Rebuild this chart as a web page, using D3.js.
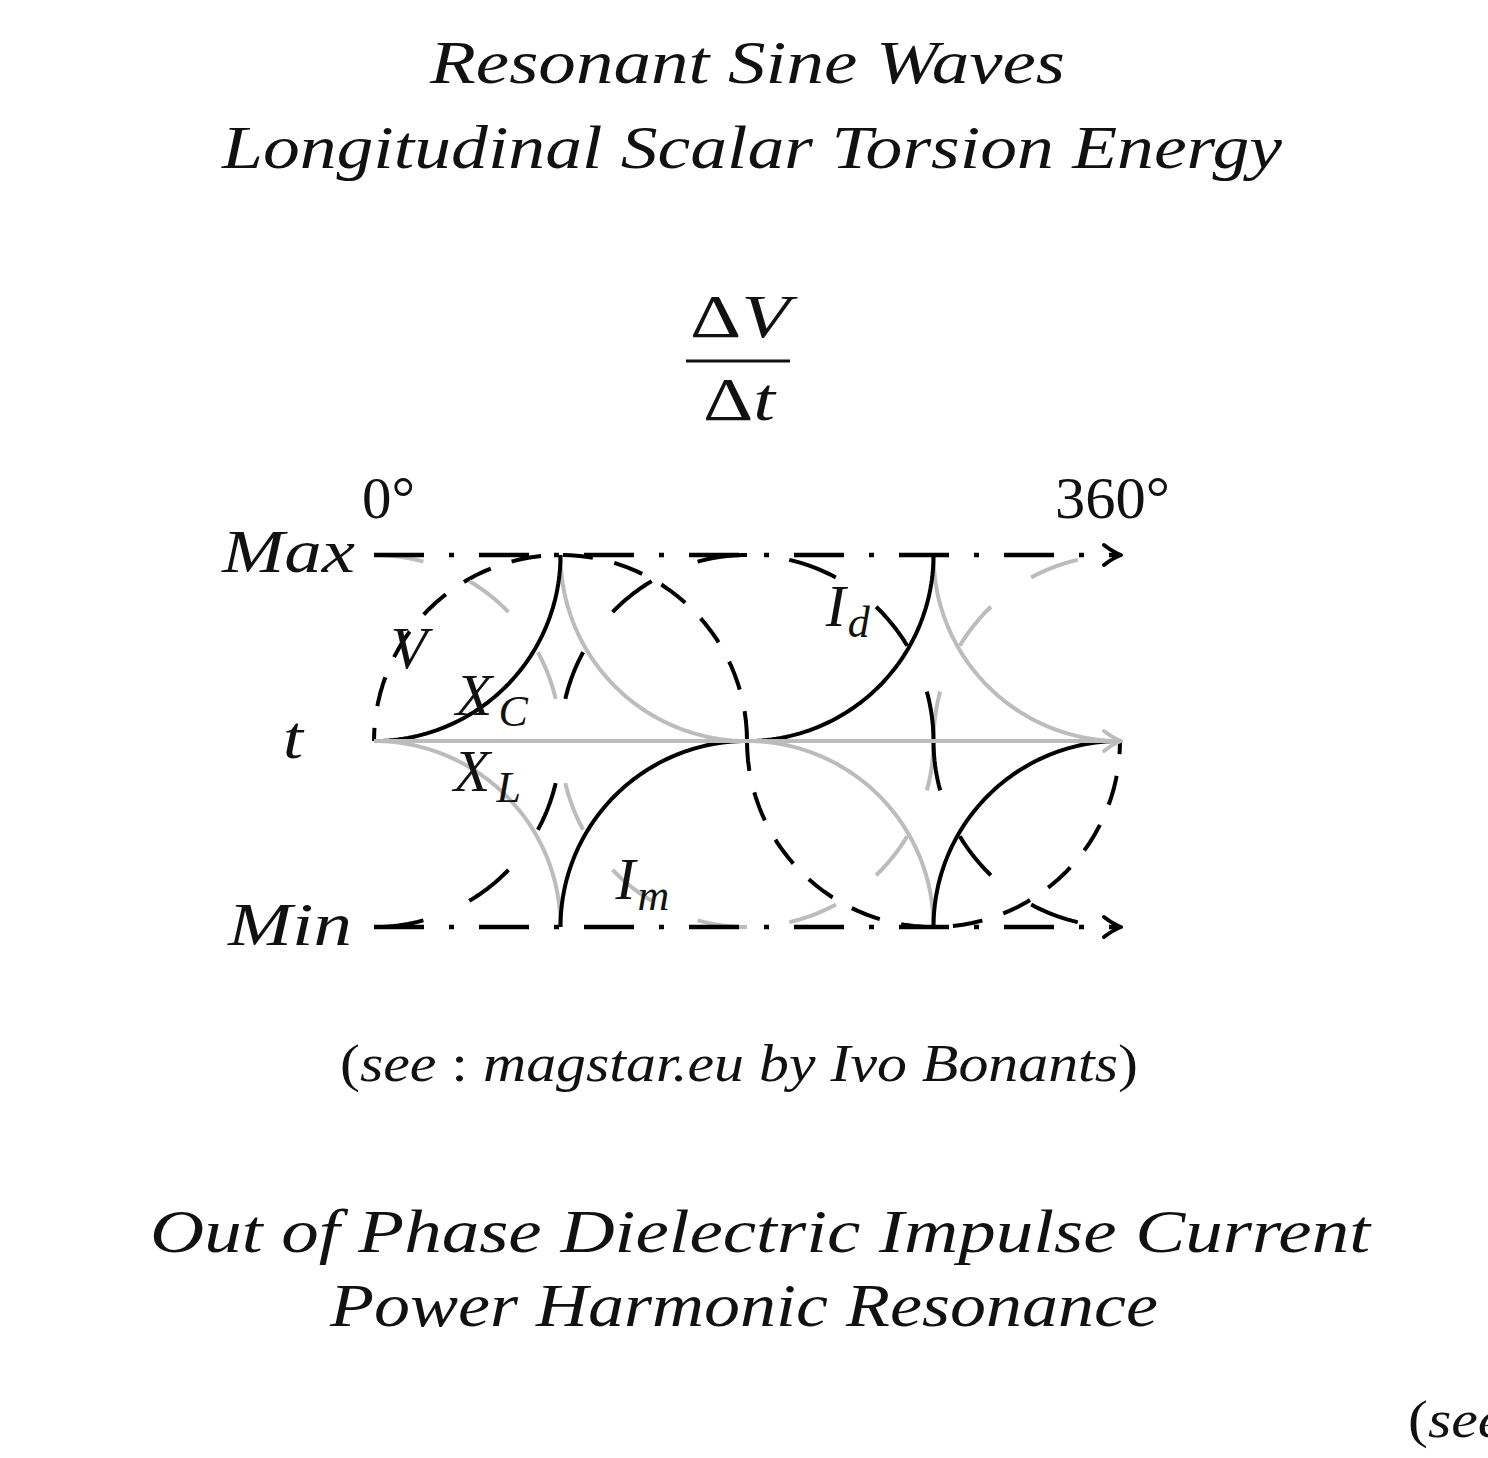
<!DOCTYPE html>
<html>
<head>
<meta charset="utf-8">
<script src="https://cdn.jsdelivr.net/npm/d3@7"></script>
<style>
	body { margin: 0; background: #fff; }
	svg text { font-family: "Liberation Serif", "DejaVu Serif", serif; font-style: italic; fill: #111; }
	svg text .up { font-style: normal; }
</style>
</head>
<body>
<svg id="chart" width="1488" height="1458"></svg>
<script>
// phase in degrees along the axis, level -1 (Min) .. 1 (Max)
var phaseTicks = [0, 360];
var levels = [1, 0, -1];
var levelLabels = ["Max", "t", "Min"];

// quarter circles of radius 90deg: [center phase, center level, start angle, end angle]
var solidBlack = [[0, 1, 270, 360], [180, -1, 180, 90], [180, 1, 270, 360], [360, -1, 180, 90]];
var solidGray = [[180, 1, 180, 270], [0, -1, 90, 0], [180, -1, 90, 0], [360, 1, 180, 270]];
// long dashed quarters around the t axis
var longBlack = [[0, 0, 270, 360], [180, 0, 90, 180], [180, 0, 0, 90], [360, 0, 180, 270]];
var longGray = [[0, 0, 90, 0], [180, 0, 0, -90], [180, 0, 270, 180], [360, 0, 180, 90]];
// dashed half circles
var dashedHalves = [[90, 0, 0, 180], [270, 0, 180, 360]];

// curve labels: [main, subscript, phase, level]
var curveLabels = [["V", "", 8, 0.39], ["X", "C", 39.5, 0.14], ["X", "L", 38.5, -0.27], ["I", "d", 218, 0.62], ["I", "m", 116.5, -0.85]];

var titleLines = ["Resonant Sine Waves", "Longitudinal Scalar Torsion Energy"];
var footerLines = ["Out of Phase Dielectric Impulse Current", "Power Harmonic Resonance"];
var credit = ["(", "see ", ": ", "magstar.eu by Ivo Bonants", ")"];

var svg = d3.select("#chart");
var x = d3.scaleLinear().domain([0, 360]).range([374, 1120]);
var y = d3.scaleLinear().domain([-1, 1]).range([927, 555]);
var line = d3.line();
var gray = "#bcbcbc";

function arcPath(d) {
	var pts = d3.range(0, 61).map(function(i) {
		var a = (d[2] + (d[3] - d[2]) * i / 60) * Math.PI / 180;
		return [x(d[0] + 90 * Math.cos(a)), y(d[1] + Math.sin(a))];
	});
	return line(pts);
}

function drawArcs(data, color, width, dash) {
	svg.append("g").selectAll("path")
		.data(data)
		.enter().append("path")
		.attr("d", arcPath)
		.attr("fill", "none")
		.attr("stroke", color)
		.attr("stroke-width", width)
		.attr("stroke-dasharray", dash);
}

function arrow(xt, yt, color) {
	svg.append("path")
		.attr("d", "M" + (xt - 17) + "," + (yt - 10) + " Q" + (xt - 8) + "," + (yt - 3) + " " + xt + "," + yt + " Q" + (xt - 8) + "," + (yt + 3) + " " + (xt - 17) + "," + (yt + 10))
		.attr("fill", "none")
		.attr("stroke", color)
		.attr("stroke-width", 4)
		.attr("stroke-linecap", "round")
		.attr("stroke-linejoin", "round");
}

// titles
svg.append("text").attr("x", 430).attr("y", 83).attr("font-size", 62)
	.attr("textLength", 635).attr("lengthAdjust", "spacingAndGlyphs").text(titleLines[0]);
svg.append("text").attr("x", 222).attr("y", 168).attr("font-size", 62)
	.attr("textLength", 1060).attr("lengthAdjust", "spacingAndGlyphs").text(titleLines[1]);

// dV / dt
var num = svg.append("text").attr("x", 690).attr("y", 337).attr("font-size", 62)
	.attr("textLength", 100).attr("lengthAdjust", "spacingAndGlyphs");
num.append("tspan").attr("class", "up").text("\u0394");
num.append("tspan").text("V");
svg.append("line").attr("x1", 686).attr("x2", 790).attr("y1", 361).attr("y2", 361)
	.attr("stroke", "#111").attr("stroke-width", 3);
var den = svg.append("text").attr("x", 703).attr("y", 420).attr("font-size", 62)
	.attr("textLength", 72).attr("lengthAdjust", "spacingAndGlyphs");
den.append("tspan").attr("class", "up").text("\u0394");
den.append("tspan").text("t");

// dashed circles and waves
drawArcs(dashedHalves, "#000", 4, "30,22");
drawArcs(longGray, gray, 4, "50,50");
drawArcs(longBlack, "#000", 4, "50,50");
drawArcs(solidGray, gray, 4, null);
drawArcs(solidBlack, "#000", 4, null);

// level lines
levels.forEach(function(l) {
	var mid = l === 0;
	svg.append("line")
		.attr("x1", x(0)).attr("x2", x(360) - 2)
		.attr("y1", y(l)).attr("y2", y(l))
		.attr("stroke", mid ? gray : "#000")
		.attr("stroke-width", mid ? 4 : 4.5)
		.attr("stroke-dasharray", mid ? null : "50,25,5,25");
	arrow(x(360) + 1, y(l), mid ? gray : "#000");
});

// phase ticks
svg.selectAll(".phase")
	.data(phaseTicks)
	.enter().append("text")
	.attr("x", function(d) { return d === 0 ? x(d) - 12 : x(d) - 65; })
	.attr("y", 518)
	.attr("font-size", 60)
	.attr("textLength", function(d) { return d === 0 ? 53 : 115; })
	.attr("lengthAdjust", "spacingAndGlyphs")
	.style("font-style", "normal")
	.text(function(d) { return d + "\u00b0"; });

// level labels
svg.selectAll(".level")
	.data(levels)
	.enter().append("text")
	.attr("x", function(d, i) { return [222, 283, 228][i]; })
	.attr("y", function(d) { return y(d) + (d < 0 ? 18 : 17); })
	.attr("font-size", 62)
	.attr("textLength", function(d, i) { return [133, 20, 124][i]; })
	.attr("lengthAdjust", "spacingAndGlyphs")
	.text(function(d, i) { return levelLabels[i]; });

// curve labels
curveLabels.forEach(function(d) {
	var t = svg.append("text")
		.attr("x", x(d[2]))
		.attr("y", y(d[3]))
		.attr("font-size", 60);
	t.append("tspan").text(d[0]);
	if (d[1]) {
		t.append("tspan").attr("dy", 11).attr("dx", d[0] === "I" ? 2 : 6).attr("font-size", 44).text(d[1]);
	}
});

// credit line, and its copy peeking in at the bottom right
[[340, 1081, 798], [1408, 1437, 798]].forEach(function(p) {
	var c = svg.append("text").attr("x", p[0]).attr("y", p[1]).attr("font-size", 52)
		.attr("textLength", p[2]).attr("lengthAdjust", "spacingAndGlyphs");
	credit.forEach(function(s, i) {
		c.append("tspan").attr("class", (i === 0 || i === 2 || i === 4) ? "up" : null).text(s);
	});
});

// footer
svg.append("text").attr("x", 150).attr("y", 1252).attr("font-size", 62)
	.attr("textLength", 1220).attr("lengthAdjust", "spacingAndGlyphs").text(footerLines[0]);
svg.append("text").attr("x", 330).attr("y", 1326).attr("font-size", 62)
	.attr("textLength", 828).attr("lengthAdjust", "spacingAndGlyphs").text(footerLines[1]);
</script>
</body>
</html>
